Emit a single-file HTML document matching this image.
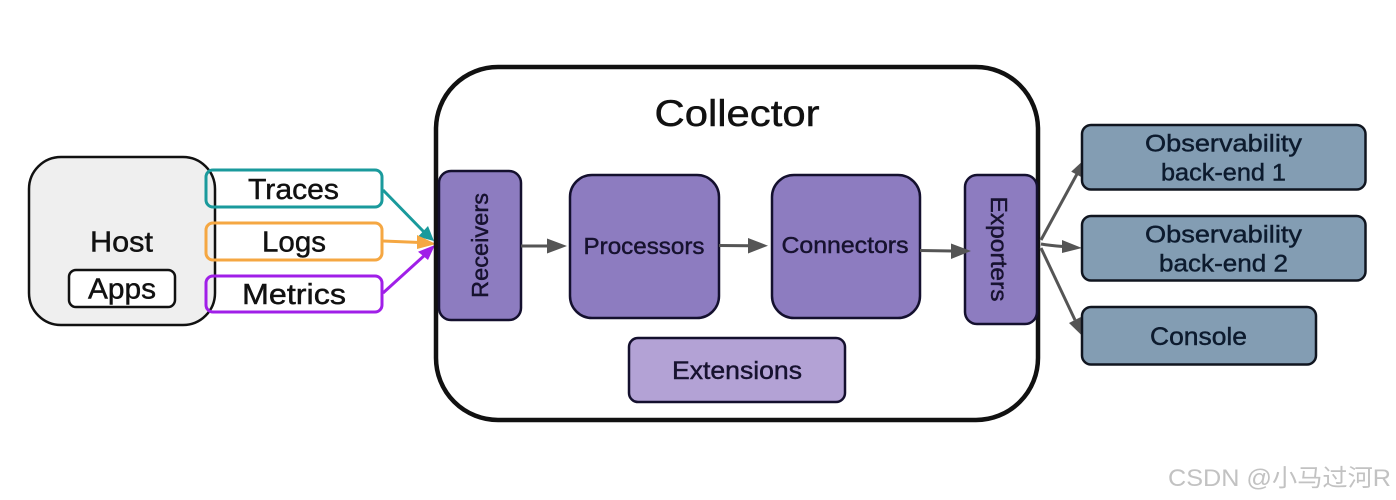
<!DOCTYPE html>
<html><head><meta charset="utf-8">
<style>html,body{margin:0;padding:0;background:#fff}svg{display:block}
text{font-family:"Liberation Sans","Noto Sans CJK SC",sans-serif;fill:#111;stroke:#111;stroke-width:.45px;text-anchor:middle}
.p{fill:#17122f;stroke:#17122f}.b{fill:#0d1b2e;stroke:#0d1b2e}</style></head>
<body>
<svg width="1396" height="500" viewBox="0 0 1396 500" xmlns="http://www.w3.org/2000/svg">
<!-- Host -->
<rect x="29" y="157" width="186" height="168" rx="32" fill="#efefef" stroke="#111" stroke-width="2.5"/>
<text x="121.5" y="251.5" font-size="29" textLength="63" lengthAdjust="spacingAndGlyphs">Host</text>
<rect x="69" y="270" width="106" height="37" rx="7" fill="#fff" stroke="#111" stroke-width="2.5"/>
<text x="122" y="298.5" font-size="29" textLength="68" lengthAdjust="spacingAndGlyphs">Apps</text>
<!-- Signals -->
<rect x="206" y="170" width="176" height="37" rx="7" fill="none" stroke="#1a9a9c" stroke-width="3"/>
<text x="293.5" y="199" font-size="29" textLength="91" lengthAdjust="spacingAndGlyphs">Traces</text>
<rect x="206" y="223" width="176" height="37" rx="7" fill="none" stroke="#f5a742" stroke-width="3"/>
<text x="294" y="251.5" font-size="29" textLength="64" lengthAdjust="spacingAndGlyphs">Logs</text>
<rect x="206" y="276" width="176" height="36" rx="7" fill="none" stroke="#a01fe8" stroke-width="3"/>
<text x="294" y="304" font-size="29" textLength="104" lengthAdjust="spacingAndGlyphs">Metrics</text>
<line x1="383" y1="293" x2="426" y2="254" stroke="#a01fe8" stroke-width="3"/>
<path d="M435 245L418 251.7L428 260z" fill="#a01fe8"/>
<line x1="383" y1="190" x2="424" y2="232" stroke="#1a9a9c" stroke-width="3"/>
<path d="M434 241L428 226L418 236.7z" fill="#1a9a9c"/>
<line x1="383" y1="241" x2="420" y2="242.5" stroke="#f5a742" stroke-width="3"/>
<path d="M436 244L417 235L417 249z" fill="#f5a742"/>
<!-- Collector -->
<rect x="436" y="67" width="602" height="353" rx="62" fill="#fff" stroke="#111" stroke-width="4.5"/>
<text x="737" y="126" font-size="37" textLength="165" lengthAdjust="spacingAndGlyphs">Collector</text>
<rect x="439" y="171" width="82" height="149" rx="12" fill="#8d7cc0" stroke="#14102e" stroke-width="2.5"/>
<text class="p" font-size="23.5" textLength="105" lengthAdjust="spacingAndGlyphs" transform="translate(488 245.5) rotate(-90)">Receivers</text>
<rect x="570" y="175" width="149" height="143" rx="22" fill="#8d7cc0" stroke="#14102e" stroke-width="2.5"/>
<text class="p" x="644" y="254" font-size="23.5" textLength="121" lengthAdjust="spacingAndGlyphs">Processors</text>
<rect x="772" y="175" width="148" height="143" rx="22" fill="#8d7cc0" stroke="#14102e" stroke-width="2.5"/>
<text class="p" x="845" y="253" font-size="23.5" textLength="127" lengthAdjust="spacingAndGlyphs">Connectors</text>
<rect x="965" y="175" width="72" height="149" rx="12" fill="#8d7cc0" stroke="#14102e" stroke-width="2.5"/>
<text class="p" font-size="23.5" textLength="105" lengthAdjust="spacingAndGlyphs" transform="translate(991 249) rotate(90)">Exporters</text>
<rect x="629" y="338" width="216" height="64" rx="9" fill="#b3a2d5" stroke="#14102e" stroke-width="2.5"/>
<text class="p" x="737" y="379" font-size="25" textLength="130" lengthAdjust="spacingAndGlyphs">Extensions</text>
<!-- Internal arrows -->
<g stroke="#555" stroke-width="3" fill="none">
<line x1="521" y1="246" x2="548" y2="246"/>
<line x1="719" y1="245.5" x2="750" y2="245.7"/>
<line x1="920" y1="250.5" x2="953" y2="251"/>
<line x1="1041" y1="240" x2="1077" y2="174"/>
<path d="M1041 244Q1050 245.5 1063 246.5"/>
<line x1="1041" y1="248" x2="1075" y2="320"/>
</g>
<g fill="#555">
<path d="M547 238.5L567 246L547 253.5z"/>
<path d="M748 238L768 245.7L748 253.5z"/>
<path d="M951 243.5L971 251L951 259z"/>
<path d="M1086 158L1082.6 177.8L1071.2 171.6z"/>
<path d="M1082 248L1062 253L1062 240z"/>
<path d="M1083.4 337L1080.8 317L1069 323z"/>
</g>
<!-- Back-ends -->
<rect x="1082" y="125" width="283.5" height="64.5" rx="9" fill="#839db3" stroke="#10151f" stroke-width="2.5"/>
<text class="b" x="1223.5" y="151.5" font-size="24.5" textLength="157" lengthAdjust="spacingAndGlyphs">Observability</text>
<text class="b" x="1223.5" y="180.5" font-size="24.5" textLength="125" lengthAdjust="spacingAndGlyphs">back-end 1</text>
<rect x="1082" y="216" width="283.5" height="64.5" rx="9" fill="#839db3" stroke="#10151f" stroke-width="2.5"/>
<text class="b" x="1223.5" y="242.5" font-size="24.5" textLength="157" lengthAdjust="spacingAndGlyphs">Observability</text>
<text class="b" x="1223.5" y="271.5" font-size="24.5" textLength="129" lengthAdjust="spacingAndGlyphs">back-end 2</text>
<rect x="1082" y="307" width="234" height="57.5" rx="9" fill="#839db3" stroke="#10151f" stroke-width="2.5"/>
<text class="b" x="1198.5" y="345" font-size="25" textLength="97" lengthAdjust="spacingAndGlyphs">Console</text>
<!-- Watermark -->
<text x="1279.5" y="486" font-size="24" textLength="223" lengthAdjust="spacingAndGlyphs" style="fill:#c2c2c2;stroke:none">CSDN @小马过河R</text>
</svg>
</body></html>
